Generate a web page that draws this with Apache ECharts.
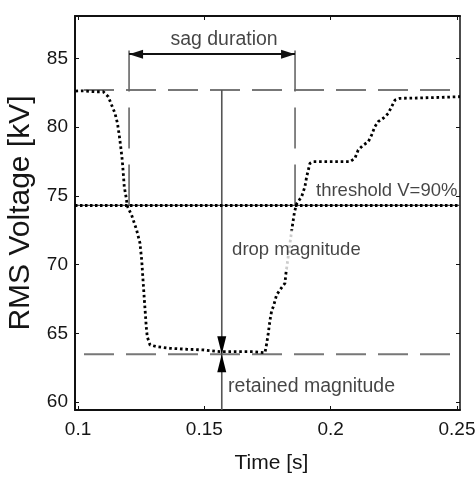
<!DOCTYPE html>
<html><head><meta charset="utf-8">
<script src="https://cdn.jsdelivr.net/npm/echarts@6/dist/echarts.min.js"></script>
<style>html,body{margin:0;padding:0;background:#fff}#c{width:476px;height:480px}</style>
</head><body><div id="c"></div>
<script>
// ---- data ----
const xRange = [0.0988, 0.2512];
const yRange = [59.42, 88.08];
const xTickValues = [0.1, 0.15, 0.2, 0.25];
const xTickLabels = ['0.1', '0.15', '0.2', '0.25'];
const yTickValues = [60, 65, 70, 75, 80, 85];
const yTickLabels = ['60', '65', '70', '75', '80', '85'];
const xAxisTitle = 'Time [s]';
const yAxisTitle = 'RMS Voltage [kV]';

const timeS = [0.0990, 0.1015, 0.1067, 0.1100, 0.1120, 0.1133, 0.1146, 0.1156, 0.1163, 0.1169,
  0.1175, 0.1179, 0.1183, 0.1190, 0.1195, 0.1213, 0.1232, 0.1245, 0.1252, 0.1258,
  0.1263, 0.1267, 0.1270, 0.1274, 0.1285, 0.1311, 0.1364, 0.1430, 0.1496, 0.1562,
  0.1628, 0.1694, 0.1740, 0.1747, 0.1753, 0.1760, 0.1767, 0.1773, 0.1786, 0.1799,
  0.1819, 0.1823, 0.1846, 0.1852, 0.1857, 0.1866, 0.1885, 0.1898, 0.1905, 0.1918,
  0.1931, 0.1997, 0.2076, 0.2096, 0.2109, 0.2129, 0.2149, 0.2162, 0.2175, 0.2188,
  0.2208, 0.2228, 0.2241, 0.2255, 0.2274, 0.2353, 0.2433, 0.2512];
const rmsKV = [82.62, 82.64, 82.57, 82.57, 82.21, 81.60, 81.02, 80.29, 79.42, 78.57,
  77.60, 76.66, 75.66, 74.93, 74.26, 73.55, 72.51, 71.57, 70.33, 68.66,
  67.30, 66.30, 65.48, 64.75, 64.15, 64.03, 63.91, 63.84, 63.79, 63.66,
  63.66, 63.66, 63.59, 64.27, 65.00, 65.97, 66.69, 66.93, 67.79, 68.15,
  68.64, 69.36, 72.51, 73.24, 73.84, 74.45, 74.93, 75.66, 76.39, 77.36,
  77.48, 77.48, 77.48, 77.73, 78.33, 78.69, 78.93, 79.42, 80.03, 80.39,
  80.64, 81.00, 81.48, 81.97, 82.09, 82.12, 82.16, 82.21];

const nominalKV = 82.7;
const thresholdKV = 74.3;
const retainedKV = 63.47;
const sagStartS = 0.1202;
const sagEndS = 0.1859;
const sagMarkerTopKV = 86.4;
const sagArrowKV = 85.3;
const magnitudeS = 0.1569;

const annoText = ['sag duration', 'threshold V=90%', 'drop magnitude', 'retained magnitude'];
const annoT = [0.1578, 0.1942, 0.1602, 0.1594];
const annoV = [86.33, 75.35, 71.06, 61.09];

// ---- chart ----
const FONT = 'Liberation Sans, Arial, sans-serif';
const TXT = '#151515';
const chart = echarts.init(document.getElementById('c'), null, {renderer: 'canvas'});
const pick = (vals, labels) => v => {
  for (let i = 0; i < vals.length; i++) if (Math.abs(vals[i] - v) < 1e-9) return labels[i];
  return '';
};
const axisLineStyle = {color: '#111', width: 2};
const hLine = (v) => [[xRange[0], v], [xRange[1], v]];

const option = {
  animation: false,
  backgroundColor: '#fff',
  grid: {left: 75, right: 16, top: 16, bottom: 70, containLabel: false, outerBoundsMode: 'none'},
  xAxis: [{
    type: 'value', min: xRange[0], max: xRange[1], position: 'bottom',
    axisLine: {show: true, onZero: false, lineStyle: axisLineStyle},
    axisTick: {show: true, inside: true, length: 4, customValues: xTickValues, lineStyle: {color: '#111', width: 1}},
    axisLabel: {show: true, customValues: xTickValues, formatter: pick(xTickValues, xTickLabels),
      fontSize: 19, color: TXT, margin: 10, fontFamily: FONT},
    splitLine: {show: false},
    name: xAxisTitle, nameLocation: 'middle', nameGap: 43,
    nameTextStyle: {fontSize: 21, color: TXT, fontFamily: FONT, padding: [0, 0, 0, 8]}
  }, {
    type: 'value', min: xRange[0], max: xRange[1], position: 'top',
    axisLine: {show: true, onZero: false, lineStyle: axisLineStyle},
    axisTick: {show: true, inside: true, length: 4, customValues: xTickValues, lineStyle: {color: '#111', width: 1}},
    axisLabel: {show: false}, splitLine: {show: false}
  }],
  yAxis: [{
    type: 'value', min: yRange[0], max: yRange[1], position: 'left',
    axisLine: {show: true, onZero: false, lineStyle: axisLineStyle},
    axisTick: {show: true, inside: true, length: 4, customValues: yTickValues, lineStyle: {color: '#111', width: 1}},
    axisLabel: {show: true, customValues: yTickValues, formatter: pick(yTickValues, yTickLabels),
      fontSize: 19, color: TXT, margin: 7, fontFamily: FONT},
    splitLine: {show: false},
    name: yAxisTitle, nameLocation: 'middle', nameGap: 36, nameRotate: 90,
    nameTextStyle: {fontSize: 30, color: TXT, fontFamily: FONT, padding: [0, 0, 0, 0]}
  }, {
    type: 'value', min: yRange[0], max: yRange[1], position: 'right',
    axisLine: {show: true, onZero: false, lineStyle: {color: '#111', width: 1.5}},
    axisTick: {show: true, inside: true, length: 4, customValues: yTickValues, lineStyle: {color: '#111', width: 1}},
    axisLabel: {show: false}, splitLine: {show: false}
  }],
  series: [
    {type: 'line', silent: true, showSymbol: false, data: hLine(nominalKV), z: 2,
      lineStyle: {color: '#777', width: 2, type: [30, 12], dashOffset: 33}},
    {type: 'line', silent: true, showSymbol: false, data: hLine(retainedKV), z: 2,
      lineStyle: {color: '#777', width: 2, type: [30, 12], dashOffset: 33}},
    {type: 'line', silent: true, showSymbol: false, data: hLine(thresholdKV), z: 3,
      lineStyle: {color: '#444', width: 1.2, type: 'solid'}},
    {type: 'line', silent: true, showSymbol: false, data: hLine(thresholdKV), z: 3,
      lineStyle: {color: '#000', width: 3, type: [2.5, 2.5]}},
    {type: 'line', silent: true, showSymbol: false, data: [[sagStartS, thresholdKV], [sagStartS, sagMarkerTopKV]], z: 2,
      lineStyle: {color: '#666', width: 1.6, type: [41, 16]}},
    {type: 'line', silent: true, showSymbol: false, data: [[sagEndS, thresholdKV], [sagEndS, sagMarkerTopKV]], z: 2,
      lineStyle: {color: '#666', width: 1.6, type: [41, 16]}},
    {type: 'line', silent: true, showSymbol: false, data: [[magnitudeS, nominalKV], [magnitudeS, yRange[0]]], z: 2,
      lineStyle: {color: '#555', width: 1.6, type: 'solid'}},
    {type: 'line', silent: true, data: [], z: 5,
      markLine: {
        silent: true, animation: false, label: {show: false},
        symbol: ['triangle', 'triangle'], symbolSize: [9, 14], symbolOffset: [[0, '50%'], [0, '50%']],
        data: [
          [{coord: [sagStartS, sagArrowKV], lineStyle: {color: '#111', width: 2, type: 'solid'}},
           {coord: [sagEndS, sagArrowKV]}],
          [{coord: [magnitudeS, nominalKV], symbol: 'none', lineStyle: {color: '#000', width: 0, type: 'solid'}},
           {coord: [magnitudeS, retainedKV], symbol: 'triangle', symbolSize: [9, 18]}],
          [{coord: [magnitudeS, yRange[0]], symbol: 'none', lineStyle: {color: '#000', width: 0, type: 'solid'}},
           {coord: [magnitudeS, retainedKV], symbol: 'triangle', symbolSize: [9, 18]}]
        ]
      }},
    {type: 'line', silent: true, showSymbol: false, z: 6,
      data: timeS.map((t, i) => [t, rmsKV[i]]),
      lineStyle: {color: '#000', width: 2.8, type: [2.6, 2.8]}},
    {type: 'scatter', silent: true, symbolSize: 0, z: 7,
      data: annoText.map((s, i) => ({
        value: [annoT[i], annoV[i]], name: s,
        label: {show: true, position: [0, 0], formatter: s,
          align: i === 0 ? 'center' : 'left', verticalAlign: 'middle',
          fontSize: (i === 0 || i === 3) ? 19.5 : 18.5, color: TXT, fontFamily: FONT,
          backgroundColor: i === 2 ? '#fff' : 'transparent', padding: i === 2 ? [10, 2] : 0}
      }))}
  ]
};
chart.setOption(option);
</script>
</body></html>
